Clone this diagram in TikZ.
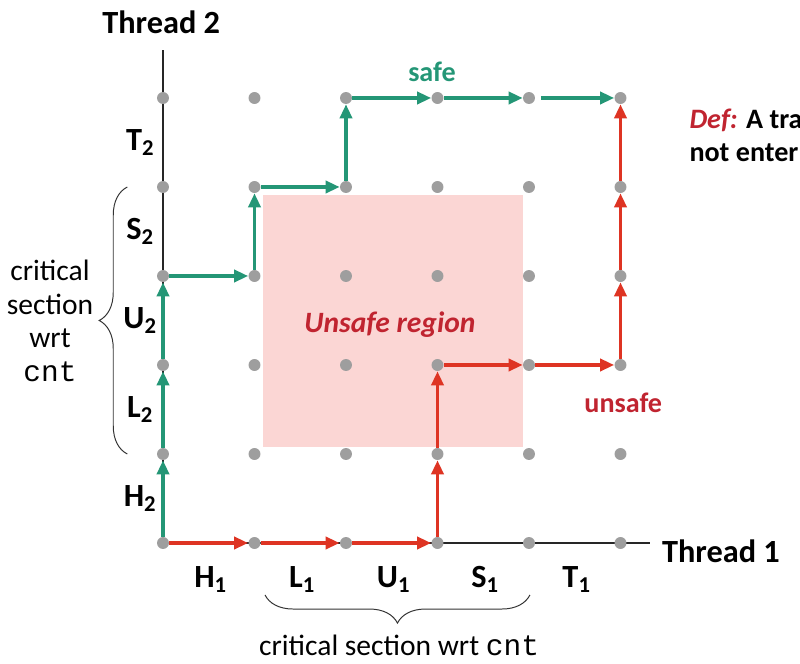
\documentclass[tikz,border=0pt]{standalone}
\definecolor{safegreen}{RGB}{36,150,118}
\definecolor{unsafered}{RGB}{222,52,35}
\definecolor{textred}{RGB}{192,36,48}
\definecolor{regionpink}{RGB}{251,214,212}
\definecolor{dotgray}{RGB}{158,158,158}
\usepackage{fontspec}
\setmainfont{Carlito}
\newfontfamily\cntfont{Liberation Mono}
\usepackage{tikz}
\usetikzlibrary{arrows.meta,decorations.pathreplacing}

\begin{document}
\begin{tikzpicture}[x=2.2875cm,y=2.225cm,font=\fontsize{21}{24}\selectfont]

%
% Styles
%
\tikzstyle{dot}    = [circle,fill=dotgray,inner sep=0pt,minimum size=8.5pt]
\tikzstyle{axis}   = [draw=black!85,line width=0.9pt]
\tikzstyle{safe}   = [->,>={Triangle[length=10pt,width=8.5pt]},draw=safegreen,line width=2.6pt]
\tikzstyle{unsafe} = [->,>={Triangle[length=10pt,width=8.5pt]},draw=unsafered,line width=2.6pt]
\tikzstyle{lbl}    = [font=\fontsize{23}{26}\selectfont\bfseries]
\tikzstyle{tag}    = [font=\fontsize{20}{24}\selectfont\bfseries]
\tikzstyle{brace}  = [decorate,decoration={brace,amplitude=20pt},draw=black!80,line width=0.7pt]

\useasboundingbox (-1.7814,-1.3596) rectangle (6.9617,6.1011);

% unsafe region
\fill[regionpink] (1.093,1.079) rectangle (3.934,3.910);
\node[font=\fontsize{21}{24}\selectfont\bfseries\itshape,text=textred] (region) at (2.48,2.45) {Unsafe region};

% axes
\coordinate (o)    at (0,0);
\coordinate (xend) at (5.32,0);
\coordinate (yend) at (0,5.54);
\draw[axis] (o) -- (xend);
\draw[axis] (o) -- (yend);
\node[lbl,anchor=west] (thr1) at (5.40,-0.09) {Thread 1};
\node[lbl]             (thr2) at (-0.02,5.854) {Thread 2};

% progress grid
\foreach \i in {0,...,5}
  \foreach \j in {0,...,5}
    \node[dot] (p\i\j) at (\i,\j) {};

% instruction labels
\node[lbl] (h2) at (-0.25,0.5) {H\textsubscript{2}};
\node[lbl] (l2) at (-0.25,1.5) {L\textsubscript{2}};
\node[lbl] (u2) at (-0.25,2.5) {U\textsubscript{2}};
\node[lbl] (s2) at (-0.25,3.5) {S\textsubscript{2}};
\node[lbl] (t2) at (-0.25,4.5) {T\textsubscript{2}};

\node[lbl] (h1) at (0.52,-0.41) {H\textsubscript{1}};
\node[lbl] (l1) at (1.52,-0.41) {L\textsubscript{1}};
\node[lbl] (u1) at (2.52,-0.41) {U\textsubscript{1}};
\node[lbl] (s1) at (3.52,-0.41) {S\textsubscript{1}};
\node[lbl] (t1) at (4.52,-0.41) {T\textsubscript{1}};

% critical sections
\coordinate (lb0) at (-0.39,1);
\coordinate (lb1) at (-0.39,4);
\draw[brace] (lb0) -- (lb1);
\node[align=center] (crit2) at (-1.235,2.494) {critical\\section\\wrt\\{\cntfont cnt}};

\coordinate (bb0) at (4.01,-0.584);
\coordinate (bb1) at (1.115,-0.584);
\draw[brace] (bb0) -- (bb1);
\node (crit1) at (2.58,-1.146) {critical section wrt {\cntfont cnt}};

% safe trajectory
\draw[safe] (p00) -- (p01);
\draw[safe] (p01) -- (p02);
\draw[safe] (p02) -- (p03);
\draw[safe] (p03) -- (p13);
\draw[safe] (p13) -- (p14);
\draw[safe] (p14) -- (p24);
\draw[safe] (p24) -- (p25);
\draw[safe] (p25) -- (p35);
\draw[safe] (p35) -- (p45);
\draw[safe,shorten <=4pt] (p45) -- (p55);
\node[tag,text=safegreen] (safelbl) at (2.94,5.29) {safe};

% unsafe trajectory
\draw[unsafe] (p00) -- (p10);
\draw[unsafe] (p10) -- (p20);
\draw[unsafe] (p20) -- (p30);
\draw[unsafe] (p30) -- (p31);
\draw[unsafe] (p31) -- (p32);
\draw[unsafe] (p32) -- (p42);
\draw[unsafe] (p42) -- (p52);
\draw[unsafe] (p52) -- (p53);
\draw[unsafe] (p53) -- (p54);
\draw[unsafe] (p54) -- (p55);
\node[tag,text=textred] (unsafelbl) at (5.03,1.573) {unsafe};

% definition
\node[tag,anchor=west,align=left] (def) at (5.70,4.58)
  {{\color{textred}\itshape Def:} A tra\\not enter};

\end{tikzpicture}
\end{document}
